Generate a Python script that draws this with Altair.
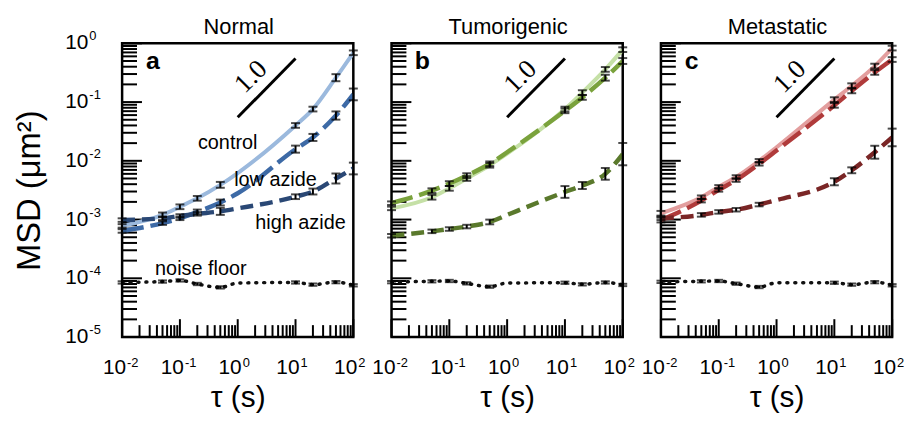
import altair as alt
import pandas as pd

FONT = "Liberation Sans"

# ---- data ----
TAU = [0.01, 0.05, 0.1, 0.2, 0.5, 1, 10, 20, 50, 100]
BAR_TAU = [0.01, 0.05, 0.1, 0.2, 0.5, 10, 20, 50, 100]
SERIES = ["control", "low azide", "high azide", "noise floor"]

# Normal
a_control = [7.8e-4, 1.2e-3, 1.65e-3, 2.3e-3, 3.9e-3, 6.2e-3, 0.040, 0.076, 0.26, 0.69]
a_low = [6.4e-4, 8.7e-4, 1.05e-3, 1.35e-3, 1.95e-3, 2.8e-3, 0.0158, 0.025, 0.059, 0.135]
a_high = [9.8e-4, 1.05e-3, 1.15e-3, 1.25e-3, 1.38e-3, 1.55e-3, 2.45e-3, 3.0e-3, 5.0e-3, 7.4e-3]
a_noise = [8.5e-5, 8.8e-5, 9.2e-5, 8.0e-5, 7.0e-5, 8.3e-5, 8.5e-5, 7.8e-5, 8.6e-5, 7.6e-5]
a_control_err = [0.03, 0.04, 0.04, 0.04, 0.05, 0.04, 0.04, 0.06, 0.04]
a_low_err = [0.03, 0.03, 0.03, 0.04, 0.05, 0.06, 0.06, 0.07, 0.1]
a_high_err = [0.03, 0.03, 0.03, 0.03, 0.06, 0.04, 0.05, 0.085, 0.1]
a_noise_err = [0.02, 0.02, 0.02, 0.02, 0.02, 0.02, 0.02, 0.02, 0.02]

# Tumorigenic
b_control = [1.55e-3, 2.4e-3, 3.4e-3, 5.0e-3, 8.4e-3, 0.0132, 0.076, 0.145, 0.36, 0.78]
b_low = [1.9e-3, 3.1e-3, 4.1e-3, 5.6e-3, 8.9e-3, 0.014, 0.071, 0.12, 0.26, 0.50]
b_high = [5.3e-4, 6.3e-4, 6.9e-4, 7.6e-4, 9.1e-4, 1.2e-3, 2.95e-3, 3.8e-3, 6.0e-3, 0.013]
b_noise = [8.6e-5, 8.9e-5, 9.0e-5, 8.2e-5, 7.2e-5, 8.3e-5, 8.4e-5, 7.9e-5, 8.5e-5, 7.7e-5]
b_control_err = [0.03, 0.04, 0.04, 0.04, 0.04, 0.04, 0.04, 0.04, 0.04]
b_low_err = [0.03, 0.04, 0.04, 0.04, 0.04, 0.04, 0.04, 0.05, 0.05]
b_high_err = [0.03, 0.03, 0.03, 0.03, 0.04, 0.1, 0.06, 0.1, 0.19]
b_noise_err = [0.02, 0.02, 0.02, 0.02, 0.02, 0.02, 0.02, 0.02, 0.02]

# Metastatic
c_control = [1.28e-3, 2.4e-3, 3.6e-3, 5.3e-3, 0.010, 0.017, 0.11, 0.19, 0.41, 0.83]
c_low = [9.8e-4, 2.1e-3, 3.2e-3, 4.7e-3, 8.9e-3, 0.015, 0.088, 0.155, 0.32, 0.53]
c_high = [1.05e-3, 1.2e-3, 1.35e-3, 1.47e-3, 1.8e-3, 2.15e-3, 4.4e-3, 6.9e-3, 0.014, 0.025]
c_noise = [8.7e-5, 8.9e-5, 9.0e-5, 8.1e-5, 7.1e-5, 8.4e-5, 8.4e-5, 7.8e-5, 8.6e-5, 7.6e-5]
c_control_err = [0.04, 0.03, 0.03, 0.03, 0.03, 0.04, 0.04, 0.04, 0.04]
c_low_err = [0.04, 0.03, 0.03, 0.03, 0.03, 0.04, 0.04, 0.04, 0.04]
c_high_err = [0.03, 0.03, 0.03, 0.03, 0.03, 0.06, 0.05, 0.11, 0.15]
c_noise_err = [0.02, 0.02, 0.02, 0.02, 0.02, 0.02, 0.02, 0.02, 0.02]

PANELS = ["Normal", "Tumorigenic", "Metastatic"]
LETTERS = ["a", "b", "c"]
COLORS = {
    "Normal": ["#9bb9dd", "#3d6aa6", "#2a4875", "#111111"],
    "Tumorigenic": ["#c5e0a6", "#7aa23c", "#5a792c", "#111111"],
    "Metastatic": ["#e39e9e", "#b03b3b", "#7a2626", "#111111"],
}
VALUES = {
    "Normal": [a_control, a_low, a_high, a_noise],
    "Tumorigenic": [b_control, b_low, b_high, b_noise],
    "Metastatic": [c_control, c_low, c_high, c_noise],
}
ERRS = {
    "Normal": [a_control_err, a_low_err, a_high_err, a_noise_err],
    "Tumorigenic": [b_control_err, b_low_err, b_high_err, b_noise_err],
    "Metastatic": [c_control_err, c_low_err, c_high_err, c_noise_err],
}

X_TICK_EXP = ["-2", "-1", "0", "1", "2"]
X_TICK_VAL = [0.01, 0.1, 1, 10, 100]
Y_TICK_EXP = ["-5", "-4", "-3", "-2", "-1", "0"]
Y_TICK_VAL = [1e-5, 1e-4, 1e-3, 1e-2, 1e-1, 1]

SLOPE_TAU = [1, 10]
SLOPE_MSD = [0.055, 0.55]
SLOPE_LABEL = "1.0"
SLOPE_LABEL_POS = (1.7, 0.27)

ANNOT_TEXT = ["control", "low azide", "high azide", "noise floor"]
ANNOT_TAU = [0.67, 4.5, 12.2, 0.23]
ANNOT_MSD = [0.0204, 4.7e-3, 8.7e-4, 1.41e-4]

W, H = 233, 296
XS = alt.Scale(type="log", domain=[0.01, 100], nice=False)
YS = alt.Scale(type="log", domain=[1e-5, 1], nice=False)

DASH = [None, [22, 7], [13, 7], [1, 7]]
WIDTH = [4, 4.5, 4.5, 3.5]

x_minor = [m * 10.0 ** k for k in range(-2, 2) for m in range(2, 10)]
y_minor = [m * 10.0 ** k for k in range(-5, 0) for m in range(2, 10)]


def panel(name, letter, first):
    xaxis = alt.Axis(title="τ (s)", labels=False, ticks=False, domain=False, grid=False,
                     titleFont=FONT, titleFontSize=30, titleFontWeight="normal",
                     titleColor="black", titlePadding=46)
    if first:
        yaxis = alt.Axis(title="MSD (μm²)", labels=False, ticks=False, domain=False,
                         grid=False, titleFont=FONT, titleFontSize=33,
                         titleFontWeight="normal", titleColor="black", titlePadding=76)
    else:
        yaxis = None
    X = lambda f: alt.X(f, type="quantitative", scale=XS, axis=xaxis)
    Y = lambda f: alt.Y(f, type="quantitative", scale=YS, axis=yaxis)

    layers = []
    # inward ticks
    layers.append(alt.Chart(pd.DataFrame({"v": Y_TICK_VAL})).mark_rule(color="black", strokeWidth=2)
                  .encode(y=Y("v"), x=alt.value(0), x2=alt.value(20)))
    layers.append(alt.Chart(pd.DataFrame({"v": y_minor})).mark_rule(color="black", strokeWidth=2)
                  .encode(y=Y("v"), x=alt.value(0), x2=alt.value(15)))
    layers.append(alt.Chart(pd.DataFrame({"v": X_TICK_VAL})).mark_rule(color="black", strokeWidth=2)
                  .encode(x=X("v"), y=alt.value(H), y2=alt.value(H - 18)))
    layers.append(alt.Chart(pd.DataFrame({"v": x_minor})).mark_rule(color="black", strokeWidth=2)
                  .encode(x=X("v"), y=alt.value(H), y2=alt.value(H - 12)))

    # curves
    for i, s in enumerate(SERIES):
        df = pd.DataFrame({"tau": TAU, "msd": VALUES[name][i]})
        kw = dict(color=COLORS[name][i], strokeWidth=WIDTH[i], interpolate="monotone",
                  clip=True)
        if DASH[i]:
            kw["strokeDash"] = DASH[i]
        if i == 3:
            kw["strokeCap"] = "round"
        layers.append(alt.Chart(df).mark_line(**kw).encode(x=X("tau"), y=Y("msd")))

    # error bars
    rows = []
    for i, s in enumerate(SERIES):
        vals = dict(zip(TAU, VALUES[name][i]))
        for t, e in zip(BAR_TAU, ERRS[name][i]):
            v = vals[t]
            rows.append({"tau": t, "lo": v * 10 ** (-e), "hi": v * 10 ** e})
    eb = pd.DataFrame(rows)
    layers.append(alt.Chart(eb).mark_rule(color="black", strokeWidth=2)
                  .encode(x=X("tau"), y=Y("lo"), y2="hi"))
    layers.append(alt.Chart(eb).mark_tick(color="black", orient="horizontal", size=9, thickness=2)
                  .encode(x=X("tau"), y=Y("lo")))
    layers.append(alt.Chart(eb).mark_tick(color="black", orient="horizontal", size=9, thickness=2)
                  .encode(x=X("tau"), y=Y("hi")))

    # slope guide
    layers.append(alt.Chart(pd.DataFrame({"tau": SLOPE_TAU, "msd": SLOPE_MSD}))
                  .mark_line(color="black", strokeWidth=3).encode(x=X("tau"), y=Y("msd")))
    layers.append(alt.Chart(pd.DataFrame({"tau": [SLOPE_LABEL_POS[0]], "msd": [SLOPE_LABEL_POS[1]],
                                          "t": [SLOPE_LABEL]}))
                  .mark_text(font="Liberation Serif", fontSize=27, angle=315, color="black")
                  .encode(x=X("tau"), y=Y("msd"), text="t:N"))

    # panel title
    layers.append(alt.Chart(pd.DataFrame({"t": [name]}))
                  .mark_text(font=FONT, fontSize=22, baseline="alphabetic", color="black")
                  .encode(x=alt.value(W / 2 + 1), y=alt.value(-9), text="t:N"))

    # panel letter
    layers.append(alt.Chart(pd.DataFrame({"t": [letter]}))
                  .mark_text(font=FONT, fontSize=25, fontWeight="bold", color="black")
                  .encode(x=alt.value(31), y=alt.value(18), text="t:N"))

    # x tick labels
    xl = pd.DataFrame({"v": X_TICK_VAL, "e": X_TICK_EXP, "b": ["10"] * 5})
    layers.append(alt.Chart(xl).mark_text(font=FONT, fontSize=21, align="right",
                                          baseline="alphabetic", dx=4, color="black")
                  .encode(x=X("v"), y=alt.value(H + 37), text="b:N"))
    layers.append(alt.Chart(xl).mark_text(font=FONT, fontSize=13, align="left",
                                          baseline="alphabetic", dx=5, color="black")
                  .encode(x=X("v"), y=alt.value(H + 30), text="e:N"))

    if first:
        yl = pd.DataFrame({"v": Y_TICK_VAL, "e": Y_TICK_EXP, "b": ["10"] * 6})
        layers.append(alt.Chart(yl).mark_text(font=FONT, fontSize=21, align="right",
                                              baseline="middle", color="black")
                      .encode(y=Y("v"), x=alt.value(-34), text="b:N"))
        layers.append(alt.Chart(yl).mark_text(font=FONT, fontSize=13, align="left",
                                              baseline="middle", dy=-7, dx=1, color="black")
                      .encode(y=Y("v"), x=alt.value(-34), text="e:N"))
        an = pd.DataFrame({"tau": ANNOT_TAU, "msd": ANNOT_MSD, "t": ANNOT_TEXT})
        layers.append(alt.Chart(an).mark_text(font=FONT, fontSize=20, color="black")
                      .encode(x=X("tau"), y=Y("msd"), text="t:N"))

    return alt.layer(*layers).properties(width=W, height=H)


chart = alt.hconcat(*[panel(n, l, i == 0) for i, (n, l) in enumerate(zip(PANELS, LETTERS))],
                    spacing=38.5, bounds="flush").configure_view(
    stroke="black", strokeWidth=2.5).properties(
    background="white", padding={"left": 4, "top": 5, "right": 5, "bottom": 5})

chart.save("out.html", embed_options={"renderer": "svg", "actions": False})
